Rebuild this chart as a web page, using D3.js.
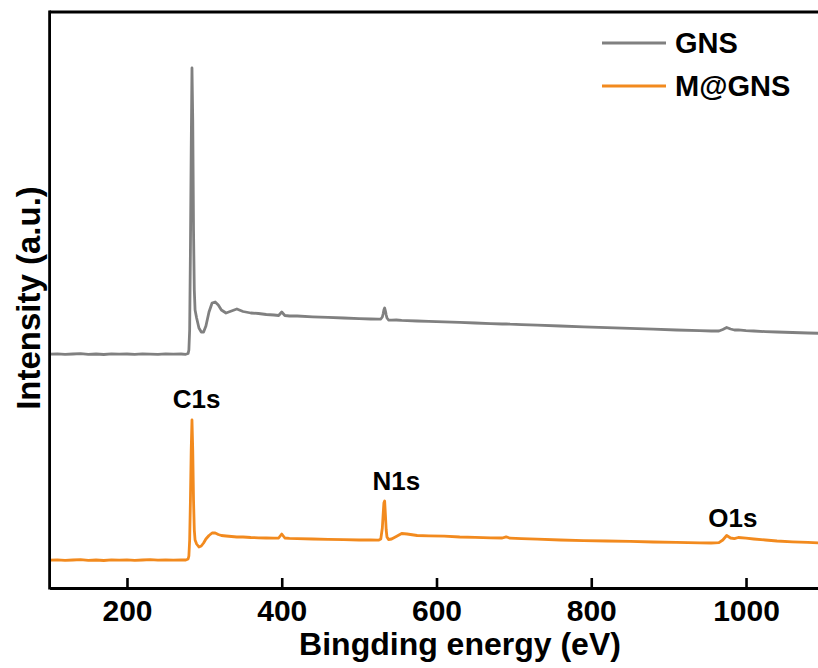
<!DOCTYPE html>
<html>
<head>
<meta charset="utf-8">
<script src="https://cdn.jsdelivr.net/npm/d3@7"></script>
<style>
  html, body { margin: 0; padding: 0; background: #fff; }
  svg { display: block; }
  text { font-family: Arial, "Liberation Sans", Helvetica, sans-serif; font-weight: bold; fill: #000; }
</style>
</head>
<body>
<svg id="chart" width="818" height="668"></svg>
<script>
// XPS survey spectra: binding energy (eV) and intensity (a.u.)
const energy = [100,110,120,130,140,150,160,170,180,190,200,210,220,230,240,250,260,270,276,279,
  280,281,282,283,284,285,286,287,288,290,293,296,299,302,306,310,314,318,322,328,335,342,350,360,370,380,390,396,
  400,404,410,420,440,460,480,500,515,525,528,530,531,532,533,534,535,536,538,542,548,555,562,575,590,610,630,650,
  670,685,690,695,710,730,760,790,820,850,880,910,940,955,965,970,975,980,985,990,1000,1010,1025,1040,1060,1080,1100];

const gns = [23.38,23.42,23.36,23.40,23.44,23.37,23.40,23.35,23.41,23.38,23.40,23.36,23.42,23.39,23.37,23.41,23.38,23.40,23.37,23.45,
  23.8,25.8,33.8,43.8,52.0,46.8,35.8,29.8,27.8,27.0,26.0,25.6,25.6,26.2,27.6,28.5,28.6,28.3,27.8,27.5,27.7,27.9,27.65,27.5,27.45,27.35,27.3,27.25,
  27.6,27.25,27.2,27.2,27.12,27.06,27.0,26.94,26.9,26.88,26.9,27.1,27.4,27.8,28.0,27.7,27.3,27.0,26.8,26.78,26.8,26.76,26.74,26.7,26.66,26.62,26.56,26.5,
  26.44,26.4,26.42,26.38,26.34,26.28,26.2,26.12,26.04,25.96,25.88,25.8,25.74,25.7,25.7,25.85,26.05,25.9,25.8,25.82,25.74,25.7,25.64,25.6,25.55,25.5,25.46];

const mgns = [2.78,2.82,2.76,2.80,2.84,2.77,2.80,2.75,2.81,2.78,2.82,2.77,2.80,2.83,2.78,2.81,2.79,2.82,2.80,2.90,
  3.2,4.8,8.8,13.8,16.8,13.8,8.8,5.8,4.8,4.4,4.1,4.2,4.5,4.9,5.25,5.5,5.5,5.35,5.25,5.2,5.15,5.1,5.1,5.05,5.02,5.0,4.98,5.0,
  5.4,5.0,4.96,4.94,4.9,4.86,4.84,4.8,4.8,4.78,4.9,6.0,7.3,8.5,8.7,7.3,5.8,5.1,4.85,4.9,5.15,5.45,5.4,5.25,5.22,5.18,5.1,5.06,
  5.02,5.0,5.12,4.98,4.94,4.88,4.8,4.74,4.7,4.66,4.6,4.56,4.52,4.5,4.54,4.8,5.25,5.0,4.94,5.05,4.98,4.9,4.8,4.7,4.62,4.56,4.5];

const seriesNames = ["GNS", "M@GNS"];
const seriesColors = ["#808080", "#f28a1e"];
const xTicks = [200, 400, 600, 800, 1000];

// peak annotations: label, energy, intensity at the text baseline
const peakLabels = ["C1s", "N1s", "O1s"];
const peakEnergy = [290, 548, 983];
const peakLevel = [18.0, 9.8, 6.1];

const svg = d3.select("#chart");
const plotLeft = 49.6, plotRight = 823.4, plotTop = 12, plotBottom = 588;

const x = d3.scaleLinear().domain([100, 1100]).range([plotLeft, plotRight]);
const y = d3.scaleLinear().domain([0, 57.6]).range([plotBottom, plotTop]);

svg.append("defs").append("clipPath").attr("id", "plot-clip")
  .append("rect").attr("x", plotLeft).attr("y", plotTop)
  .attr("width", plotRight - plotLeft).attr("height", plotBottom - plotTop);

const line = d3.line().x((d, i) => x(energy[i])).y(d => y(d));

const plot = svg.append("g").attr("clip-path", "url(#plot-clip)");
[gns, mgns].forEach((vals, k) => {
  plot.append("path")
    .datum(vals)
    .attr("fill", "none")
    .attr("stroke", seriesColors[k])
    .attr("stroke-width", 2.8)
    .attr("stroke-linejoin", "round")
    .attr("d", line);
});

// frame: left, top and right edges
svg.append("line").attr("x1", plotLeft).attr("x2", plotLeft).attr("y1", plotTop - 1.4).attr("y2", plotBottom + 1.4)
  .attr("stroke", "#000").attr("stroke-width", 2.8);
svg.append("line").attr("x1", plotLeft).attr("x2", plotRight).attr("y1", plotTop).attr("y2", plotTop)
  .attr("stroke", "#000").attr("stroke-width", 2.8);
svg.append("line").attr("x1", plotRight).attr("x2", plotRight).attr("y1", plotTop).attr("y2", plotBottom)
  .attr("stroke", "#000").attr("stroke-width", 2.8);

// bottom axis with inward ticks
const xAxis = d3.axisBottom(x).tickValues(xTicks).tickFormat(d3.format("d"))
  .tickSizeInner(-10).tickSizeOuter(0).tickPadding(12);
const gx = svg.append("g").attr("transform", `translate(0,${plotBottom})`).call(xAxis);
gx.select(".domain").attr("stroke", "#000").attr("stroke-width", 2.8);
gx.selectAll(".tick line").attr("stroke", "#000").attr("stroke-width", 2.6);
gx.selectAll(".tick text")
  .style("font-family", 'Arial, "Liberation Sans", sans-serif')
  .style("font-weight", "bold")
  .style("font-size", "30px")
  .attr("fill", "#000");

// axis titles
svg.append("text")
  .attr("x", 460).attr("y", 655)
  .attr("text-anchor", "middle")
  .style("font-size", "32px")
  .text("Bingding energy (eV)");

svg.append("text")
  .attr("transform", "translate(40,298) rotate(-90)")
  .attr("text-anchor", "middle")
  .style("font-size", "33px")
  .text("Intensity (a.u.)");

// peak labels
peakLabels.forEach((lab, i) => {
  svg.append("text")
    .attr("x", x(peakEnergy[i])).attr("y", y(peakLevel[i]))
    .attr("text-anchor", "middle")
    .style("font-size", "26px")
    .text(lab);
});

// legend
const legend = svg.append("g");
seriesNames.forEach((name, i) => {
  const ly = 43 + i * 43;
  legend.append("line")
    .attr("x1", 602).attr("x2", 666).attr("y1", ly).attr("y2", ly)
    .attr("stroke", seriesColors[i]).attr("stroke-width", 3.2);
  legend.append("text")
    .attr("x", 675).attr("y", ly + 10)
    .style("font-size", "29px")
    .text(name);
});
</script>
</body>
</html>
